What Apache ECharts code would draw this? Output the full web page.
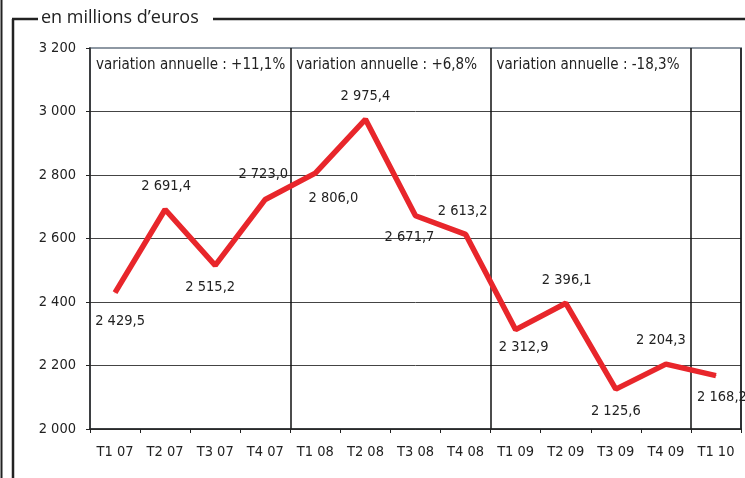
<!DOCTYPE html>
<html>
<head>
<meta charset="utf-8">
<script src="https://cdn.jsdelivr.net/npm/echarts@6/dist/echarts.min.js"></script>
<style>
html, body { margin: 0; padding: 0; background: #fff; }
#chart { width: 745px; height: 478px; }
</style>
</head>
<body>
<div id="chart"></div>
<script>
const quarters = ['T1 07', 'T2 07', 'T3 07', 'T4 07', 'T1 08', 'T2 08', 'T3 08', 'T4 08', 'T1 09', 'T2 09', 'T3 09', 'T4 09', 'T1 10']
const values = [2429.5, 2691.4, 2515.2, 2723.0, 2806.0, 2975.4, 2671.7, 2613.2, 2312.9, 2396.1, 2125.6, 2204.3, 2168.2]
const yearStarts = [0, 4, 8]
const yearNotes = ['variation annuelle : +11,1%', 'variation annuelle : +6,8%', 'variation annuelle : -18,3%']
const yTicks = [2000, 2200, 2400, 2600, 2800, 3000, 3200]

// where each value label sits around its point
const labelOffsets = [[5, 29], [1, -23], [-5, 22], [-2, -25], [18, 25], [0, -23], [-6, 21],
    [-3, -23], [8, 18], [1, -23], [0, 22], [-5, -24], [6, 22]]

const fmt = v => {
    const s = v.toFixed(1).replace('.', ',')
    return s.replace(/^(\d)(\d{3})/, '$1 $2')
}

const font = 'DejaVu Sans Condensed'
const chart = echarts.init(document.getElementById('chart'))

const option = {
    animation: false,
    backgroundColor: '#fff',
    grid: {
        left: 90, right: 4, top: 48, bottom: 49,
        show: true, borderColor: '#8e98a3', borderWidth: 2, backgroundColor: 'transparent'
    },
    xAxis: {
        type: 'category',
        data: quarters,
        boundaryGap: true,
        axisLine: {lineStyle: {color: '#222', width: 1.5}},
        axisTick: {show: true, length: 4, lineStyle: {color: '#222'}},
        axisLabel: {color: '#222', fontFamily: font, fontSize: 14.5, margin: 16, interval: 0},
        splitLine: {
            show: true,
            interval: (i) => i === 4 || i === 8 || i === 12,
            lineStyle: {color: '#111', width: 1.5}
        }
    },
    yAxis: {
        type: 'value',
        min: yTicks[0],
        max: yTicks[yTicks.length - 1],
        interval: 200,
        axisLine: {show: true, lineStyle: {color: '#222', width: 1.5}},
        axisTick: {show: true, length: 4, lineStyle: {color: '#222'}},
        axisLabel: {
            color: '#222', fontFamily: font, fontSize: 14.5, margin: 14,
            formatter: v => String(v).replace(/^(\d)(\d{3})$/, '$1 $2')
        },
        splitLine: {
            show: true,
            lineStyle: {color: ['#444', '#444', '#444', '#444', '#444', '#444', '#8e98a3'], width: 1}
        }
    },
    series: [{
        type: 'line',
        data: values.map((v, i) => ({
            value: v,
            label: {offset: labelOffsets[i]}
        })),
        symbol: 'circle',
        symbolSize: 1,
        itemStyle: {color: '#e8262b'},
        lineStyle: {color: '#e8262b', width: 5.5},
        label: {
            show: true,
            position: 'inside',
            color: '#222',
            fontFamily: font,
            fontSize: 14.5,
            formatter: p => fmt(p.value)
        },
        z: 3
    }]
}
chart.setOption(option)

// year notes, placed from the axis scale
const c0 = chart.convertToPixel({xAxisIndex: 0}, 0)
const c1 = chart.convertToPixel({xAxisIndex: 0}, 1)
const band = c1 - c0
const topY = chart.convertToPixel({yAxisIndex: 0}, yTicks[yTicks.length - 1])
const notes = yearStarts.map((start, k) => ({
    type: 'text',
    x: c0 + (start - 0.5) * band + 6,
    y: topY + 17,
    style: {text: yearNotes[k], fill: '#222', font: '15px "' + font + '"', textVerticalAlign: 'middle'},
    z: 10
}))

chart.setOption({
    graphic: [
        ...notes,
        {type: 'line', shape: {x1: 1.5, y1: 0, x2: 1.5, y2: 478}, style: {stroke: '#222', lineWidth: 2}},
        {type: 'line', shape: {x1: 13, y1: 19, x2: 13, y2: 478}, style: {stroke: '#222', lineWidth: 2.5}},
        {type: 'line', shape: {x1: 12, y1: 19, x2: 38, y2: 19}, style: {stroke: '#222', lineWidth: 2.5}},
        {type: 'line', shape: {x1: 213, y1: 19, x2: 745, y2: 19}, style: {stroke: '#222', lineWidth: 2.5}},
        {
            type: 'text', x: 41, y: 18,
            style: {text: 'en millions d’euros', fill: '#222', font: '18px "Open Sans"', textVerticalAlign: 'middle'}
        }
    ]
})
</script>
</body>
</html>
